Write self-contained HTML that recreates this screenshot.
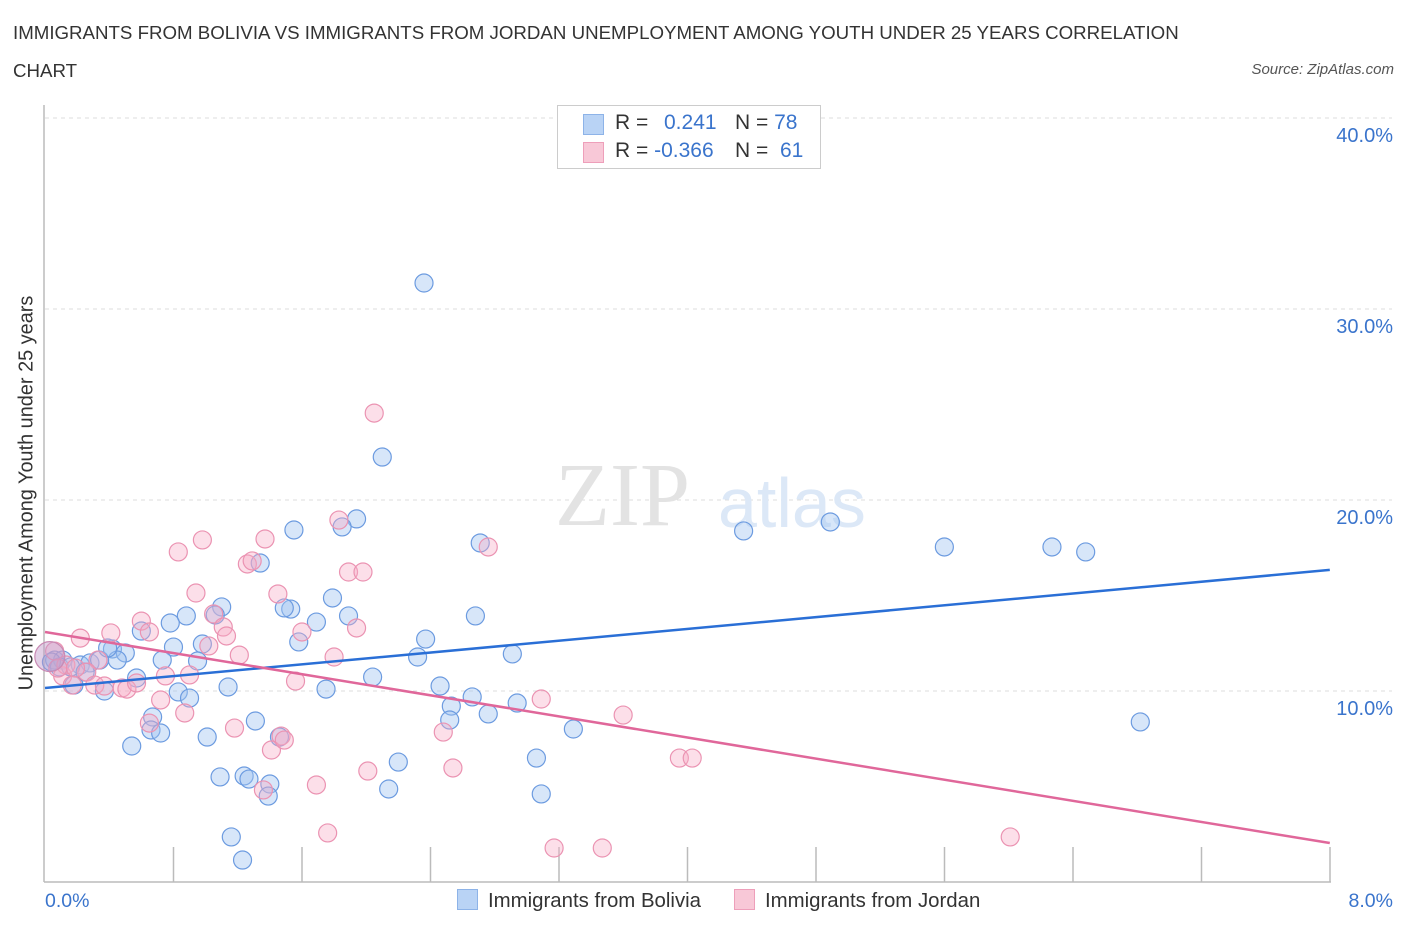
<!DOCTYPE html>
<html><head><meta charset="utf-8"><style>
body{margin:0;background:#fff;font-family:"Liberation Sans",sans-serif;}
#wrap{position:relative;width:1406px;height:930px;overflow:hidden;}
.t{position:absolute;white-space:nowrap;}
</style></head><body>
<div id="wrap">
<div class="t" style="left:13px;top:22px;font-size:18.7px;color:#333;">IMMIGRANTS FROM BOLIVIA VS IMMIGRANTS FROM JORDAN UNEMPLOYMENT AMONG YOUTH UNDER 25 YEARS CORRELATION</div>
<div class="t" style="left:13px;top:60px;font-size:18.7px;color:#333;">CHART</div>
<div class="t" style="right:12px;top:61px;font-size:15px;font-style:italic;color:#555;">Source: ZipAtlas.com</div>
<svg id="svg" width="1406" height="930" style="position:absolute;left:0;top:0"></svg>
</div>
<script>
const blueX=[2.36,2.10,1.94,1.85,1.55,4.35,4.89,5.60,6.27,6.48,2.71,1.34,1.79,1.89,2.68,1.10,1.06,0.88,1.53,1.49,0.78,0.60,1.69,2.37,1.58,0.80,0.98,2.32,2.91,0.42,0.50,0.45,0.73,0.95,0.06,0.11,0.22,0.28,0.34,0.57,2.04,2.46,1.14,1.75,0.83,0.90,2.66,2.53,2.94,2.76,0.37,0.18,0.67,0.66,0.72,1.31,1.01,0.54,3.29,1.46,6.82,3.06,2.20,1.09,1.24,1.27,1.40,1.39,2.14,3.09,1.16,1.23,2.52,0.09,0.04,0.39,0.16,0.25];
const blueY=[31.36,22.25,19.01,18.59,18.43,18.38,18.85,17.54,17.54,17.28,17.75,16.70,14.87,13.93,13.93,14.40,13.98,13.93,14.29,14.35,13.56,13.14,13.61,12.72,12.57,12.30,12.46,11.78,11.94,12.20,11.99,11.62,11.62,11.57,11.62,11.62,11.36,11.47,11.62,10.68,10.73,10.26,10.21,10.10,9.95,9.63,9.69,9.21,9.37,8.80,10.00,10.31,8.64,7.96,7.80,8.43,7.59,7.12,8.01,7.59,8.38,6.49,6.28,5.50,5.55,5.39,5.13,4.50,4.87,4.61,2.36,1.15,8.48,11.26,11.52,12.25,11.26,10.99];
const pinkX=[2.05,1.83,0.98,0.83,1.37,1.26,1.29,1.89,1.98,2.76,0.94,1.45,1.05,0.60,1.11,1.13,0.65,0.41,0.22,1.60,1.94,1.02,1.21,1.80,0.33,0.26,0.90,0.75,1.56,0.11,0.31,0.17,0.37,0.48,0.51,0.57,0.72,0.87,3.09,3.60,1.18,2.48,1.47,1.41,1.49,2.01,2.54,1.69,1.36,1.76,3.17,3.47,3.95,4.03,6.01,0.06,0.13,0.08,0.19,0.65];
const pinkY=[24.55,18.95,17.91,17.28,17.96,16.65,16.81,16.23,16.23,17.54,15.13,15.08,14.03,13.66,13.35,12.88,13.09,13.04,12.77,13.09,13.30,12.36,11.88,11.78,11.62,10.99,10.84,10.79,10.52,10.79,10.31,10.31,10.26,10.16,10.10,10.42,9.53,8.85,9.58,8.74,8.06,7.85,7.64,6.91,7.43,5.81,5.97,5.08,4.82,2.57,1.78,1.78,6.49,6.49,2.36,12.09,11.36,11.20,11.20,8.32];
const blueLine=[10.16,16.34];
const pinkLine=[13.09,2.04];
const yTicks=[10,20,30,40];
const yTickLabels=["10.0%","20.0%","30.0%","40.0%"];

const NS="http://www.w3.org/2000/svg";
const svg=document.getElementById('svg');
const X=v=>45+v*160.6, Y=v=>882-v*19.1;
function mk(t,a){const e=document.createElementNS(NS,t);for(const k in a)e.setAttribute(k,a[k]);svg.appendChild(e);return e;}
yTicks.forEach((v,i)=>{
 const g=mk('line',{x1:45,x2:1392,y1:Y(v),y2:Y(v),stroke:'#ddd','stroke-dasharray':'4,4'});
 
 
 const t=mk('text',{x:1393,y:Y(v)+24,'text-anchor':'end','font-size':20,fill:'#3a74cc','font-family':'Liberation Sans'});
 t.textContent=yTickLabels[i];
 
 
});
const wm=mk('text',{x:555,y:525,'font-size':90,fill:'#e3e3e3','font-family':'Liberation Serif'});wm.textContent='ZIP';


const wm2=mk('text',{x:718,y:527,'font-size':70,fill:'#dce8f7','font-family':'Liberation Sans'});wm2.textContent='atlas';


const ax=mk('line',{x1:44,x2:44,y1:105,y2:882,stroke:'#bbb','stroke-width':1.5});


const bx=mk('line',{x1:44,x2:1331,y1:882,y2:882,stroke:'#bbb','stroke-width':1.5});


for(let i=1;i<=10;i++){const x=45+i*128.5;const tk=mk('line',{x1:x,x2:x,y1:847,y2:882,stroke:'#bbb','stroke-width':1.5});
 
 }
function pts(xs,ys,fill,stroke,name){xs.forEach((v,i)=>{const c=mk('circle',{cx:X(v),cy:Y(ys[i]),r:9,fill:fill,stroke:stroke,'stroke-width':1.2});
 
 });}
pts(blueX,blueY,'rgba(160,196,240,0.42)','#6c9be0','bolivia-point');
pts(pinkX,pinkY,'rgba(246,170,196,0.38)','#eb93b2','jordan-point');
const bb=mk('circle',{cx:X(0.03),cy:Y(11.8),r:15,fill:'rgba(190,150,200,0.45)',stroke:'#c98ab4','stroke-width':1.2});


const l1=mk('line',{x1:X(0),y1:Y(blueLine[0]),x2:X(8),y2:Y(blueLine[1]),stroke:'#2a6fd6','stroke-width':2.5});


const l2=mk('line',{x1:X(0),y1:Y(pinkLine[0]),x2:X(8),y2:Y(pinkLine[1]),stroke:'#e0679a','stroke-width':2.5});


</script>
<div class="t" style="left:27px;top:493px;font-size:19.9px;color:#333;transform:translate(-50%,-50%) rotate(-90deg);">Unemployment Among Youth under 25 years</div>
<div class="t" style="left:45px;top:890px;font-size:19.5px;color:#3a74cc;">0.0%</div>
<div class="t" style="right:13px;top:890px;font-size:19.5px;color:#3a74cc;">8.0%</div>
<div style="position:absolute;left:557px;top:105px;width:262px;height:62px;border:1px solid #ccc;background:#fff;font-size:21px;color:#333;">
 <div style="position:absolute;left:25px;top:8px;width:19px;height:19px;background:#b9d3f5;border:1px solid #8db3e8"></div>
 <div class="t" style="left:57px;top:5px">R = </div><div class="t" style="left:106px;top:5px;color:#3a74cc">0.241</div>
 <div class="t" style="left:177px;top:5px">N = <span style="color:#3a74cc">78</span></div>
 <div style="position:absolute;left:25px;top:36px;width:19px;height:19px;background:#f8c8d7;border:1px solid #ee9fba"></div>
 <div class="t" style="left:57px;top:33px">R = <span style="color:#3a74cc">-0.366</span></div>
 <div class="t" style="left:177px;top:33px">N = &nbsp;<span style="color:#3a74cc">61</span></div>
</div>
<div style="position:absolute;left:457px;top:889px;font-size:20.4px;color:#333;">
 <span style="display:inline-block;width:19px;height:19px;background:#b9d3f5;border:1px solid #8db3e8;vertical-align:-3px;margin-right:10px"></span>Immigrants from Bolivia</div>
<div style="position:absolute;left:734px;top:889px;font-size:20.4px;color:#333;">
 <span style="display:inline-block;width:19px;height:19px;background:#f8c8d7;border:1px solid #ee9fba;vertical-align:-3px;margin-right:10px"></span>Immigrants from Jordan</div>
</body></html>
